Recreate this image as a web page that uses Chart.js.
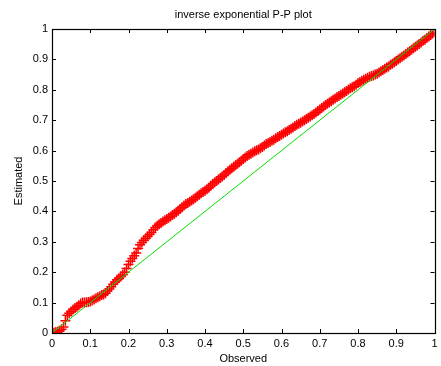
<!DOCTYPE html>
<html>
<head>
<meta charset="utf-8">
<script src="https://cdn.jsdelivr.net/npm/chart.js@4/dist/chart.umd.min.js"></script>
<style>
  html, body { margin: 0; padding: 0; background: #fff; }
  #wrap { width: 441px; height: 366px; }
</style>
</head>
<body>
<div id="wrap"><canvas id="ppChart" width="441" height="366"></canvas></div>
<script>
// observed probabilities (x) and estimated ones (y)
var observed = [
    0.000, 0.005, 0.010, 0.015, 0.020, 0.025, 0.030, 0.035, 0.040, 0.045,
    0.050, 0.055, 0.060, 0.065, 0.070, 0.075, 0.080, 0.085, 0.090, 0.095,
    0.100, 0.105, 0.110, 0.115, 0.120, 0.125, 0.130, 0.135, 0.140, 0.145,
    0.150, 0.155, 0.160, 0.165, 0.170, 0.175, 0.180, 0.185, 0.190, 0.195,
    0.200, 0.205, 0.210, 0.215, 0.220, 0.225, 0.230, 0.235, 0.240, 0.245,
    0.250, 0.255, 0.260, 0.265, 0.270, 0.275, 0.280, 0.285, 0.290, 0.295,
    0.300, 0.305, 0.310, 0.315, 0.320, 0.325, 0.330, 0.335, 0.340, 0.345,
    0.350, 0.355, 0.360, 0.365, 0.370, 0.375, 0.380, 0.385, 0.390, 0.395,
    0.400, 0.405, 0.410, 0.415, 0.420, 0.425, 0.430, 0.435, 0.440, 0.445,
    0.450, 0.455, 0.460, 0.465, 0.470, 0.475, 0.480, 0.485, 0.490, 0.495,
    0.500, 0.505, 0.510, 0.515, 0.520, 0.525, 0.530, 0.535, 0.540, 0.545,
    0.550, 0.555, 0.560, 0.565, 0.570, 0.575, 0.580, 0.585, 0.590, 0.595,
    0.600, 0.605, 0.610, 0.615, 0.620, 0.625, 0.630, 0.635, 0.640, 0.645,
    0.650, 0.655, 0.660, 0.665, 0.670, 0.675, 0.680, 0.685, 0.690, 0.695,
    0.700, 0.705, 0.710, 0.715, 0.720, 0.725, 0.730, 0.735, 0.740, 0.745,
    0.750, 0.755, 0.760, 0.765, 0.770, 0.775, 0.780, 0.785, 0.790, 0.795,
    0.800, 0.805, 0.810, 0.815, 0.820, 0.825, 0.830, 0.835, 0.840, 0.845,
    0.850, 0.855, 0.860, 0.865, 0.870, 0.875, 0.880, 0.885, 0.890, 0.895,
    0.900, 0.905, 0.910, 0.915, 0.920, 0.925, 0.930, 0.935, 0.940, 0.945,
    0.950, 0.955, 0.960, 0.965, 0.970, 0.975, 0.980, 0.985, 0.990, 0.995,
    1.000];
var estimated = [
    0.000, 0.001, 0.003, 0.004, 0.008, 0.012, 0.020, 0.040, 0.058, 0.065,
    0.071, 0.077, 0.082, 0.086, 0.091, 0.097, 0.100, 0.100, 0.101, 0.102,
    0.104, 0.107, 0.110, 0.114, 0.118, 0.121, 0.125, 0.127, 0.131, 0.138,
    0.145, 0.152, 0.160, 0.168, 0.175, 0.180, 0.186, 0.192, 0.200, 0.212,
    0.225, 0.236, 0.245, 0.254, 0.263, 0.278, 0.290, 0.298, 0.305, 0.312,
    0.318, 0.324, 0.331, 0.340, 0.347, 0.353, 0.358, 0.362, 0.367, 0.371,
    0.375, 0.379, 0.383, 0.388, 0.392, 0.397, 0.402, 0.408, 0.414, 0.419,
    0.424, 0.428, 0.432, 0.436, 0.440, 0.445, 0.450, 0.455, 0.460, 0.464,
    0.468, 0.473, 0.478, 0.484, 0.490, 0.495, 0.500, 0.505, 0.510, 0.515,
    0.520, 0.526, 0.532, 0.537, 0.542, 0.547, 0.552, 0.557, 0.562, 0.567,
    0.572, 0.577, 0.582, 0.586, 0.590, 0.594, 0.598, 0.601, 0.604, 0.608,
    0.612, 0.617, 0.622, 0.625, 0.628, 0.632, 0.636, 0.641, 0.645, 0.648,
    0.652, 0.656, 0.660, 0.664, 0.668, 0.672, 0.676, 0.681, 0.685, 0.688,
    0.692, 0.696, 0.700, 0.704, 0.708, 0.712, 0.716, 0.720, 0.725, 0.730,
    0.735, 0.740, 0.745, 0.750, 0.754, 0.758, 0.762, 0.767, 0.771, 0.776,
    0.780, 0.784, 0.788, 0.792, 0.796, 0.801, 0.805, 0.808, 0.812, 0.817,
    0.822, 0.826, 0.830, 0.833, 0.836, 0.840, 0.843, 0.845, 0.847, 0.850,
    0.853, 0.857, 0.861, 0.865, 0.869, 0.873, 0.877, 0.882, 0.886, 0.891,
    0.895, 0.900, 0.904, 0.909, 0.913, 0.918, 0.923, 0.927, 0.932, 0.937,
    0.942, 0.946, 0.951, 0.956, 0.961, 0.965, 0.970, 0.975, 0.980, 0.985,
    0.990];
// reference line y = x
var refLine = [0, 1];
var tickValues = [0, 0.1, 0.2, 0.3, 0.4, 0.5, 0.6, 0.7, 0.8, 0.9, 1];

var ppPoints = observed.map(function (x, i) { return { x: x, y: estimated[i] }; });
var linePoints = refLine.map(function (v) { return { x: v, y: v }; });

Chart.defaults.font.family = "'Liberation Sans', Arial, sans-serif";
Chart.defaults.font.size = 11;
Chart.defaults.color = '#000';

function tickText(v) { return String(Math.round(v * 10) / 10); }

// matlab style box with inward ticks on all four sides
var boxTicks = {
    id: 'boxTicks',
    afterDraw: function (chart) {
        var c = chart.ctx, a = chart.chartArea;
        var xs = chart.scales.x, ys = chart.scales.y;
        var len = 4;
        c.save();
        c.strokeStyle = '#000';
        c.lineWidth = 1;
        c.beginPath();
        tickValues.forEach(function (v) {
            var px = Math.round(xs.getPixelForValue(v)) + 0.5;
            var py = Math.round(ys.getPixelForValue(v)) + 0.5;
            c.moveTo(px, a.bottom); c.lineTo(px, a.bottom - len);
            c.moveTo(px, a.top); c.lineTo(px, a.top + len);
            c.moveTo(a.left, py); c.lineTo(a.left + len, py);
            c.moveTo(a.right, py); c.lineTo(a.right - len, py);
        });
        c.stroke();
        c.lineWidth = 1.2;
        c.strokeRect(Math.round(a.left) + 0.5, Math.round(a.top) + 0.5,
            Math.round(a.right - a.left), Math.round(a.bottom - a.top));
        c.restore();
    }
};

var ctx = document.getElementById('ppChart').getContext('2d');
var ppChart = new Chart(ctx, {
    type: 'scatter',
    data: {
        datasets: [{
            label: 'y = x',
            data: linePoints,
            showLine: true,
            borderColor: '#00e000',
            borderWidth: 1,
            pointRadius: 0,
            order: 0
        }, {
            label: 'P-P',
            data: ppPoints,
            showLine: false,
            pointStyle: 'cross',
            pointRadius: 5,
            pointBorderWidth: 1.5,
            borderColor: '#ff0000',
            backgroundColor: '#ff0000',
            order: 1
        }]
    },
    options: {
        responsive: false,
        animation: false,
        layout: { padding: { right: -3, left: 0, top: 0, bottom: 0 } },
        plugins: {
            legend: { display: false },
            tooltip: { enabled: false },
            title: {
                display: true,
                fullSize: false,
                text: 'inverse exponential P-P plot',
                font: { size: 11, weight: 'normal' },
                padding: { top: 8.5, bottom: 7.3 }
            }
        },
        scales: {
            x: {
                type: 'linear',
                min: 0, max: 1,
                afterBuildTicks: function (s) { s.ticks = tickValues.map(function (v) { return { value: v }; }); },
                afterFit: function (s) { s.height = 33; s.paddingLeft = 0; s.paddingRight = 0; },
                grid: { display: false, drawTicks: false },
                border: { display: false },
                ticks: { padding: 4, maxRotation: 0, autoSkip: false, callback: tickText },
                title: { display: true, text: 'Observed', font: { size: 11 }, padding: { top: 0, bottom: 0 } }
            },
            y: {
                type: 'linear',
                min: 0, max: 1,
                afterBuildTicks: function (s) { s.ticks = tickValues.map(function (v) { return { value: v }; }); },
                afterFit: function (s) { s.width = 52; s.paddingTop = 0; s.paddingBottom = 0; },
                grid: { display: false, drawTicks: false },
                border: { display: false },
                ticks: { padding: 4, autoSkip: false, callback: tickText },
                title: { display: true, text: 'Estimated', font: { size: 11 }, padding: { top: 12, bottom: 0 } }
            }
        }
    },
    plugins: [boxTicks]
});
</script>
</body>
</html>
